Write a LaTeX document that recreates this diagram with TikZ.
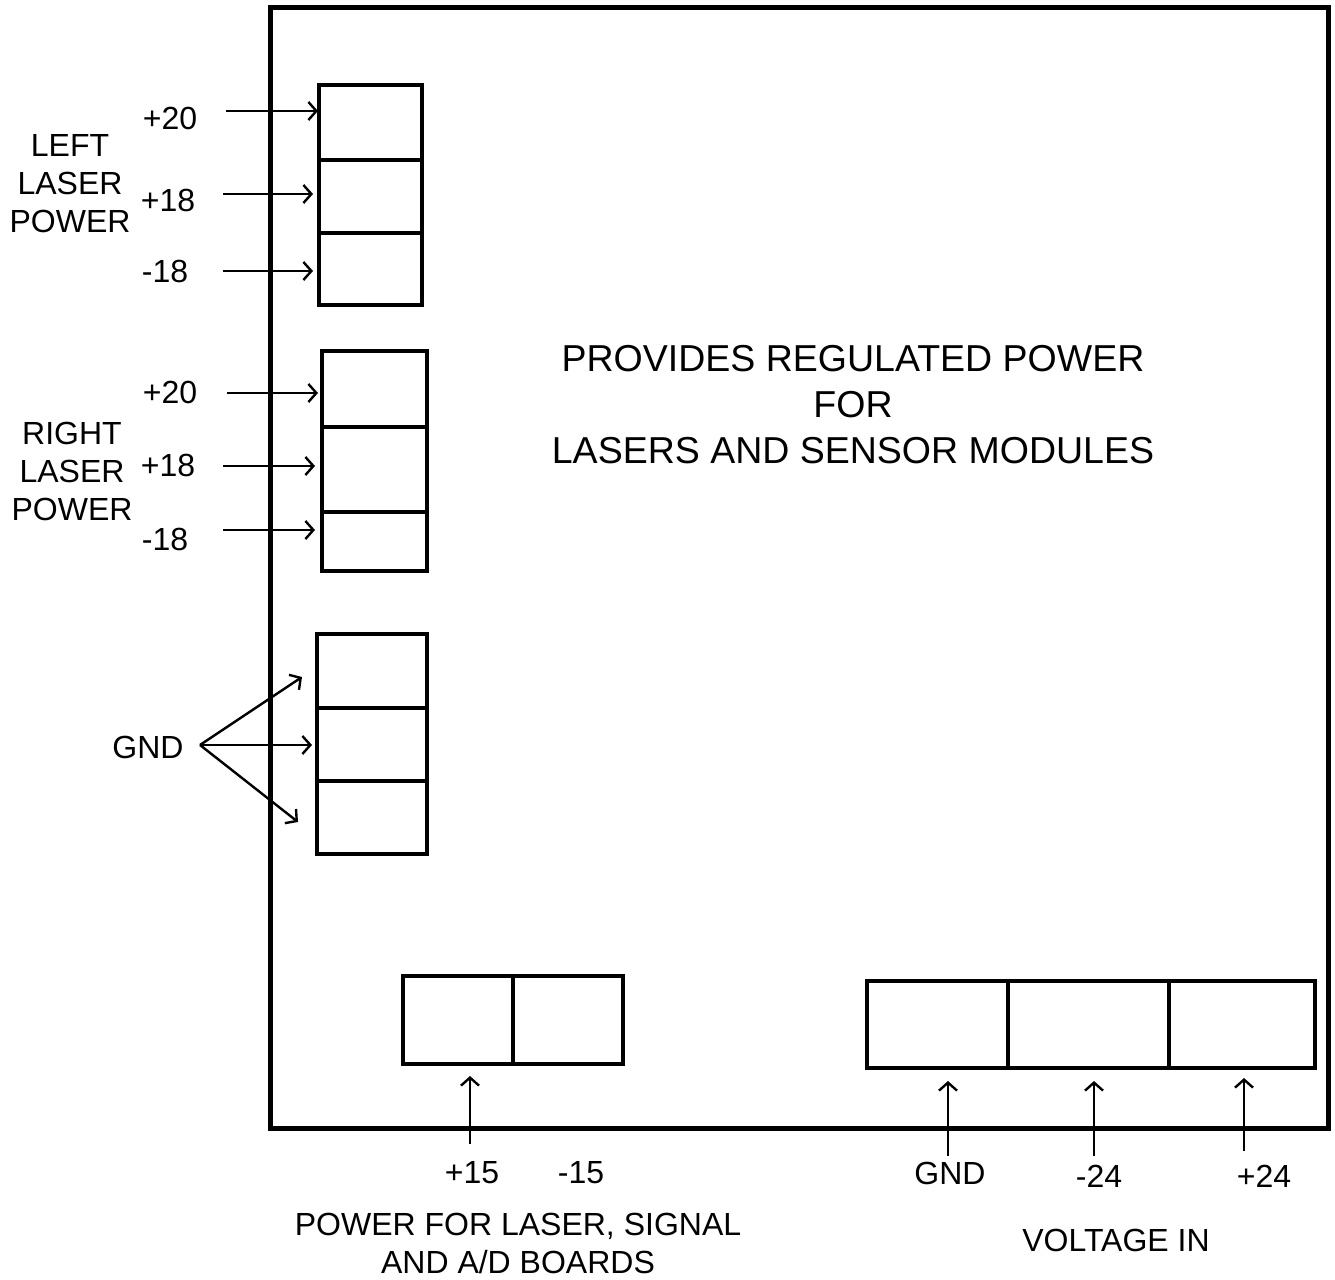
\documentclass[tikz,border=0pt]{standalone}
\usepackage{fontspec}
\setmainfont{Liberation Sans}
\usetikzlibrary{arrows.meta}
\begin{document}
\begin{tikzpicture}[x=1pt,y=-1pt,
  cell/.style={draw, line width=3.2pt, inner sep=0pt, rectangle},
  board/.style={draw, line width=5pt, inner sep=0pt, rectangle},
  lab/.style={font=\fontsize{32}{38}\selectfont, inner sep=0pt, align=center},
  big/.style={font=\fontsize{37.5}{46}\selectfont, inner sep=0pt, align=center},
  wire/.style={line width=2.4pt, -{Straight Barb[length=8pt,width=18pt,line width=2.4pt]}}]
\useasboundingbox (0,0) rectangle (1335,1279);
% board
\node[board, minimum width=1058pt, minimum height=1120pt] (board) at (799,568) {};
% left laser connector
\node[cell, minimum width=103pt, minimum height=75pt] (l1) at (370.5,122.5) {};
\node[cell, minimum width=103pt, minimum height=73pt] (l2) at (370.5,196.5) {};
\node[cell, minimum width=103pt, minimum height=72pt] (l3) at (370.5,269) {};
% right laser connector
\node[cell, minimum width=105pt, minimum height=76pt] (r1) at (374.5,389) {};
\node[cell, minimum width=105pt, minimum height=85pt] (r2) at (374.5,469.5) {};
\node[cell, minimum width=105pt, minimum height=59pt] (r3) at (374.5,541.5) {};
% gnd connector
\node[cell, minimum width=110pt, minimum height=74pt] (g1) at (372,671) {};
\node[cell, minimum width=110pt, minimum height=73pt] (g2) at (372,744.5) {};
\node[cell, minimum width=110pt, minimum height=73pt] (g3) at (372,817.5) {};
% bottom left connector
\node[cell, minimum width=110pt, minimum height=88pt] (p1) at (458,1020) {};
\node[cell, minimum width=110pt, minimum height=88pt] (p2) at (568,1020) {};
% bottom right connector
\node[cell, minimum width=141pt, minimum height=87pt] (v1) at (937.5,1024.5) {};
\node[cell, minimum width=161pt, minimum height=87pt] (v2) at (1088.5,1024.5) {};
\node[cell, minimum width=146pt, minimum height=87pt] (v3) at (1242,1024.5) {};
% main text
\node[big] (title) at (853,405) {PROVIDES REGULATED POWER\\FOR\\LASERS AND SENSOR MODULES};
% left labels
\node[lab] (lt) at (70,184) {LEFT\\LASER\\POWER};
\node[lab] (la) at (170,118) {+20};
\node[lab] (lb) at (168,200) {+18};
\node[lab] (lc) at (165,271) {-18};
\node[lab] (rt) at (72,471) {RIGHT\\LASER\\POWER};
\node[lab] (ra) at (170,392) {+20};
\node[lab] (rb) at (168,465) {+18};
\node[lab] (rc) at (165,539) {-18};
\node[lab] (gn) at (148,747) {GND};
% bottom labels
\node[lab] (pa) at (472,1173) {+15};
\node[lab] (pb) at (581,1173) {-15};
\node[lab] (pt) at (518,1243) {POWER FOR LASER, SIGNAL\\AND A/D BOARDS};
\node[lab] (va) at (950,1173) {GND};
\node[lab] (vb) at (1099,1176) {-24};
\node[lab] (vc) at (1264,1176) {+24};
\node[lab] (vt) at (1116,1240) {VOLTAGE IN};
% arrow coordinates
\coordinate (la0) at (226,111); \coordinate (la1) at (318,111);
\coordinate (lb0) at (223,194); \coordinate (lb1) at (313,194);
\coordinate (lc0) at (223,271); \coordinate (lc1) at (313,271);
\coordinate (ra0) at (227,393); \coordinate (ra1) at (318,393);
\coordinate (rb0) at (223,466); \coordinate (rb1) at (315,466);
\coordinate (rc0) at (223,530); \coordinate (rc1) at (315,530);
\coordinate (g0) at (200,745);
\coordinate (ga) at (302,677); \coordinate (gb) at (312,745); \coordinate (gc) at (298,822);
\coordinate (pa0) at (470,1144); \coordinate (pa1) at (470,1076);
\coordinate (va0) at (948,1156); \coordinate (va1) at (948,1081);
\coordinate (vb0) at (1094,1156); \coordinate (vb1) at (1094,1081);
\coordinate (vc0) at (1244,1151); \coordinate (vc1) at (1244,1078);
% arrows
\draw[wire] (la0) -- (la1);
\draw[wire] (lb0) -- (lb1);
\draw[wire] (lc0) -- (lc1);
\draw[wire] (ra0) -- (ra1);
\draw[wire] (rb0) -- (rb1);
\draw[wire] (rc0) -- (rc1);
\draw[wire] (g0) -- (ga);
\draw[wire] (g0) -- (gb);
\draw[wire] (g0) -- (gc);
\draw[wire] (pa0) -- (pa1);
\draw[wire] (va0) -- (va1);
\draw[wire] (vb0) -- (vb1);
\draw[wire] (vc0) -- (vc1);
\end{tikzpicture}
\end{document}
